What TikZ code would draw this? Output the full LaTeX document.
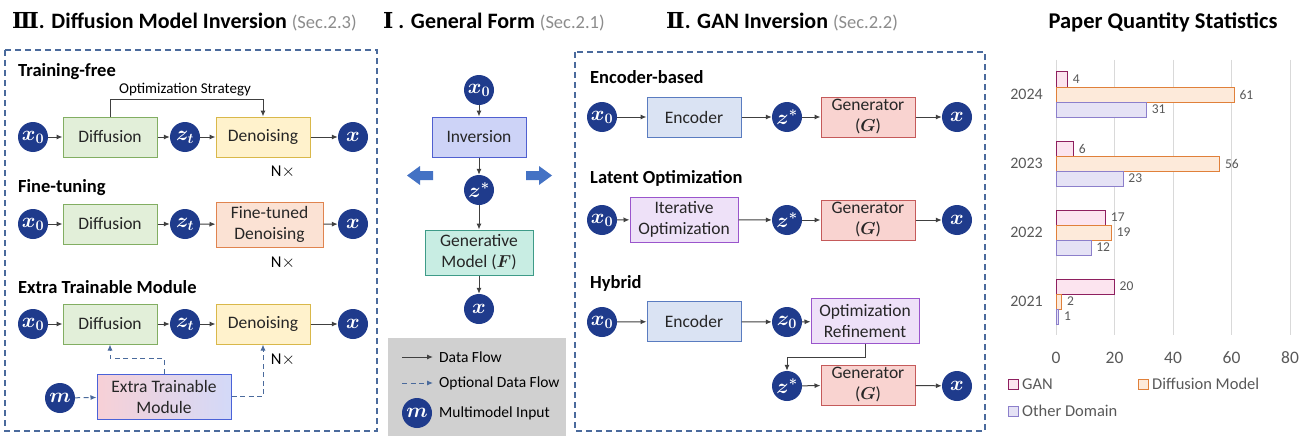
\documentclass[tikz,border=0pt]{standalone}
\usepackage{fontspec}
\setmainfont{Carlito}
\newfontfamily\romfont{DejaVu Serif}
\usepackage{bm}
\usetikzlibrary{arrows.meta}
\definecolor{navy}{HTML}{1F3B8C}
\definecolor{dashblue}{HTML}{4A6A9C}
\definecolor{arrgray}{HTML}{404040}
\definecolor{secgray}{HTML}{8C8C8C}
\definecolor{txtgray}{HTML}{595959}
\definecolor{legbg}{HTML}{D0D0D0}
\definecolor{bigarrow}{HTML}{4472C4}
\definecolor{difF}{HTML}{E2EFD9}\definecolor{difD}{HTML}{82AE62}
\definecolor{denF}{HTML}{FFF2CC}\definecolor{denD}{HTML}{D9B84A}
\definecolor{ftF}{HTML}{FBE2D4}\definecolor{ftD}{HTML}{E0844F}
\definecolor{etL}{HTML}{F7D0D6}\definecolor{etR}{HTML}{D3D9F8}\definecolor{etD}{HTML}{4A62D8}
\definecolor{invF}{HTML}{CDD3F7}\definecolor{invD}{HTML}{5060D0}
\definecolor{genF}{HTML}{C8EDE3}\definecolor{genD}{HTML}{3E9B88}
\definecolor{encF}{HTML}{DAE3F3}\definecolor{encD}{HTML}{5A7CC0}
\definecolor{gnF}{HTML}{F9D3D0}\definecolor{gnD}{HTML}{C55A5A}
\definecolor{optF}{HTML}{EEE1F8}\definecolor{optD}{HTML}{9A55CC}
\definecolor{ganF}{HTML}{FCE4EF}\definecolor{ganD}{HTML}{8E1F5F}
\definecolor{dmF}{HTML}{FDEADA}\definecolor{dmD}{HTML}{E0803A}
\definecolor{odF}{HTML}{E5E2F5}\definecolor{odD}{HTML}{8C7FCB}
\newcommand\fsz[2]{\fontsize{#1}{#2}\selectfont}
\begin{document}
\begin{tikzpicture}[x=1pt,y=-1pt,
  circ/.style={circle, fill=navy, text=white, minimum size=30pt, inner sep=0pt, font=\fsz{20}{20}},
  box/.style={draw, line width=1pt, minimum width=94pt, minimum height=40pt, align=center, inner sep=0pt, text=black!85, font=\fsz{17.5}{21}},
  arr/.style={-{Latex[length=6pt,width=5pt]}, draw=arrgray, line width=1pt},
  darr/.style={-{Latex[length=6pt,width=5pt]}, draw=dashblue, line width=1pt, dash pattern=on 5pt off 3.5pt},
  frame/.style={draw=dashblue, line width=1.1pt, dash pattern=on 6pt off 4pt},
  lab/.style={anchor=west, inner sep=0pt, font=\fsz{18.5}{22}\bfseries},
  small/.style={inner sep=0pt, font=\fsz{15}{18}},
  difbox/.style={box, fill=difF, draw=difD},
  denbox/.style={box, fill=denF, draw=denD},
  encbox/.style={box, fill=encF, draw=encD},
  gnbox/.style={box, fill=gnF, draw=gnD},
  optbox/.style={box, fill=optF, draw=optD, minimum width=108pt, minimum height=45pt},
  bar/.style={line width=1pt},
  ctxt/.style={inner sep=0pt, text=txtgray}
]
\useasboundingbox (0,0) rectangle (1314,436);
\fill[white] (0,0) rectangle (1314,436);

% ---------- titles ----------
\node[anchor=west, inner sep=0pt, font=\fsz{22}{26}\bfseries] (t3) at (12,22)
  {{\romfont Ⅲ}. Diffusion Model Inversion {\mdseries\color{secgray}\fsz{18.5}{22}(Sec.2.3)}};
\node[anchor=west, inner sep=0pt, font=\fsz{22}{26}\bfseries] (t1) at (383,22)
  {{\romfont Ⅰ}\hspace{5pt}. General Form {\mdseries\color{secgray}\fsz{18.5}{22}(Sec.2.1)}};
\node[anchor=west, inner sep=0pt, font=\fsz{22}{26}\bfseries] (t2) at (666,22)
  {{\romfont Ⅱ}. GAN Inversion {\mdseries\color{secgray}\fsz{18.5}{22}(Sec.2.2)}};
\node[inner sep=0pt, font=\fsz{22.5}{26}\bfseries] (tc) at (1163,22) {Paper Quantity Statistics};

% ---------- frames ----------
\fill[legbg] (388,338) rectangle (566,436);
\draw[frame] (5,50) rectangle (377,431);
\draw[frame] (575,52) rectangle (985,431);

% ---------- Diffusion: training-free ----------
\node[lab] (lab1) at (18,72) {Training-free};
\node[circ] (a1) at (33,137) {$\bm{x_0}$};
\node[difbox] (dif1) at (110,137) {Diffusion};
\node[circ] (zt1) at (185,137) {$\bm{z_t}$};
\node[denbox] (den1) at (263,137) {Denoising};
\node[circ] (xo1) at (353,137) {$\bm{x}$};
\draw[arr] (a1) -- (dif1);
\draw[arr] (dif1) -- (zt1);
\draw[arr] (zt1) -- (den1);
\draw[arr] (den1) -- (xo1);
\draw[arr] (dif1.north) -- ++(0,-17) -| (den1.north);
\node[small] (os) at (185,90) {Optimization Strategy};
\node[small, font=\fsz{16.5}{18}] (n1) at (283,172) {N$\times$};

% ---------- Diffusion: fine-tuning ----------
\node[lab] (lab2) at (18,188) {Fine-tuning};
\node[circ] (a2) at (33,224) {$\bm{x_0}$};
\node[difbox] (dif2) at (110,224) {Diffusion};
\node[circ] (zt2) at (185,224) {$\bm{z_t}$};
\node[box, fill=ftF, draw=ftD, minimum width=107pt, minimum height=45pt] (den2) at (269.5,224.5) {Fine-tuned\\Denoising};
\node[circ] (xo2) at (353,224) {$\bm{x}$};
\draw[arr] (a2) -- (dif2);
\draw[arr] (dif2) -- (zt2);
\draw[arr] (zt2) -- (den2);
\draw[arr] (den2) -- (xo2);
\node[small, font=\fsz{16.5}{18}] (n2) at (283,263) {N$\times$};

% ---------- Diffusion: extra module ----------
\node[lab] (lab3) at (18,287) {Extra Trainable Module};
\node[circ] (a3) at (33,324) {$\bm{x_0}$};
\node[difbox] (dif3) at (110,324) {Diffusion};
\node[circ] (zt3) at (185,324) {$\bm{z_t}$};
\node[denbox] (den3) at (263,324) {Denoising};
\node[circ] (xo3) at (353,324) {$\bm{x}$};
\draw[arr] (a3) -- (dif3);
\draw[arr] (dif3) -- (zt3);
\draw[arr] (zt3) -- (den3);
\draw[arr] (den3) -- (xo3);
\node[small, font=\fsz{16.5}{18}] (n3) at (283,360) {N$\times$};
\node[box, left color=etL, right color=etR, draw=etD, minimum width=134pt, minimum height=45pt] (etm) at (164,396.5) {Extra Trainable\\Module};
\node[circ] (m1) at (60,398) {$\bm{m}$};
\draw[darr] (m1) -- (etm);
\draw[darr] (etm.north) -- ++(0,-15) -| (dif3.south);
\draw[darr] (etm.east) -| (den3.south);

% ---------- General form ----------
\node[circ] (gx0) at (479,90) {$\bm{x_0}$};
\node[box, fill=invF, draw=invD] (inv) at (479,137) {Inversion};
\node[circ] (gz) at (479,190) {$\bm{z^*}$};
\node[box, fill=genF, draw=genD, minimum width=108pt, minimum height=45pt] (gen) at (479,252.5) {Generative\\Model ($\bm{F}$)};
\node[circ] (gx) at (479,309) {$\bm{x}$};
\draw[arr] (gx0) -- (inv);
\draw[arr] (inv) -- (gz);
\draw[arr] (gz) -- (gen);
\draw[arr] (gen) -- (gx);
\fill[bigarrow] (433,171) -- (420,171) -- (420,166) -- (407,175.5) -- (420,185) -- (420,180) -- (433,180) -- cycle;
\fill[bigarrow] (526,171) -- (539,171) -- (539,166) -- (552,175.5) -- (539,185) -- (539,180) -- (526,180) -- cycle;

% legend
\coordinate (la) at (402,357); \coordinate (lb) at (433,357);
\coordinate (lc) at (402,383); \coordinate (ld) at (433,383);
\draw[arr] (la) -- (lb);
\draw[darr] (lc) -- (ld);
\node[anchor=west, inner sep=0pt, font=\fsz{15.5}{18}] (lt1) at (439,357) {Data Flow};
\node[anchor=west, inner sep=0pt, font=\fsz{15.5}{18}] (lt2) at (439,383) {Optional Data Flow};
\node[circ] (lm) at (417,413) {$\bm{m}$};
\node[anchor=west, inner sep=0pt, font=\fsz{15.5}{18}] (lt3) at (439,413) {Multimodel Input};

% ---------- GAN: encoder-based ----------
\node[lab] (glab1) at (590,77) {Encoder-based};
\node[circ] (b1) at (602,117) {$\bm{x_0}$};
\node[encbox] (enc1) at (694,117) {Encoder};
\node[circ] (zs1) at (787,117) {$\bm{z^*}$};
\node[gnbox] (gn1) at (868,117) {Generator\\($\bm{G}$)};
\node[circ] (y1) at (957,117) {$\bm{x}$};
\draw[arr] (b1) -- (enc1);
\draw[arr] (enc1) -- (zs1);
\draw[arr] (zs1) -- (gn1);
\draw[arr] (gn1) -- (y1);

% ---------- GAN: latent optimization ----------
\node[lab] (glab2) at (590,178) {Latent Optimization};
\node[circ] (b2) at (602,220) {$\bm{x_0}$};
\node[optbox] (it2) at (684,219.5) {Iterative\\Optimization};
\node[circ] (zs2) at (787,220) {$\bm{z^*}$};
\node[gnbox] (gn2) at (868,220) {Generator\\($\bm{G}$)};
\node[circ] (y2) at (957,220) {$\bm{x}$};
\draw[arr] (b2) -- (it2);
\draw[arr] (it2) -- (zs2);
\draw[arr] (zs2) -- (gn2);
\draw[arr] (gn2) -- (y2);

% ---------- GAN: hybrid ----------
\node[lab] (glab3) at (590,283) {Hybrid};
\node[circ] (b3) at (602,322) {$\bm{x_0}$};
\node[encbox] (enc3) at (694,321.5) {Encoder};
\node[circ] (z03) at (787,322) {$\bm{z_0}$};
\node[optbox] (or3) at (865,321) {Optimization\\Refinement};
\node[circ] (zs3) at (787,386) {$\bm{z^*}$};
\node[gnbox] (gn3) at (868,385) {Generator\\($\bm{G}$)};
\node[circ] (y3) at (957,386) {$\bm{x}$};
\draw[arr] (b3) -- (enc3);
\draw[arr] (enc3) -- (z03);
\draw[arr] (z03) -- (or3);
\draw[arr] (or3.south) -- ++(0,13) -| (zs3.north);
\draw[arr] (zs3) -- (gn3);
\draw[arr] (gn3) -- (y3);

% ---------- chart ----------
\foreach \k in {0,...,4} {
  \draw[black!15, line width=0.8pt] ({1056+58.5*\k},60) -- ({1056+58.5*\k},335);
  \node[ctxt, font=\fsz{17.5}{20}] at ({1056+58.5*\k},358) {\the\numexpr 20*\k\relax};
}
\foreach \g/\yr/\va/\vb/\vc in {72/2024/4/61/31, 141/2023/6/56/23, 210/2022/17/19/12, 279/2021/20/2/1} {
  \draw[bar, fill=ganF, draw=ganD] (1056,\g) rectangle ({1056+2.925*\va},\g+15);
  \draw[bar, fill=dmF, draw=dmD] (1056,\g+15) rectangle ({1056+2.925*\vb},\g+30);
  \draw[bar, fill=odF, draw=odD] (1056,\g+30) rectangle ({1056+2.925*\vc},\g+45);
  \node[ctxt, anchor=west, font=\fsz{13.5}{15}] at ({1061+2.925*\va},\g+7.5) {\va};
  \node[ctxt, anchor=west, font=\fsz{13.5}{15}] at ({1061+2.925*\vb},\g+22.5) {\vb};
  \node[ctxt, anchor=west, font=\fsz{13.5}{15}] at ({1061+2.925*\vc},\g+37.5) {\vc};
  \node[ctxt, anchor=east, font=\fsz{16}{18}] at (1043,\g+22.5) {\yr};
}
\draw[bar, fill=ganF, draw=ganD] (1008,379) rectangle (1018,389);
\node[ctxt, anchor=west, font=\fsz{16.5}{19}] (cl1) at (1022,384) {GAN};
\draw[bar, fill=dmF, draw=dmD] (1138,379) rectangle (1148,389);
\node[ctxt, anchor=west, font=\fsz{16.5}{19}] (cl2) at (1152,384) {Diffusion Model};
\draw[bar, fill=odF, draw=odD] (1008,406) rectangle (1018,416);
\node[ctxt, anchor=west, font=\fsz{16.5}{19}] (cl3) at (1022,411) {Other Domain};
\end{tikzpicture}
\end{document}
